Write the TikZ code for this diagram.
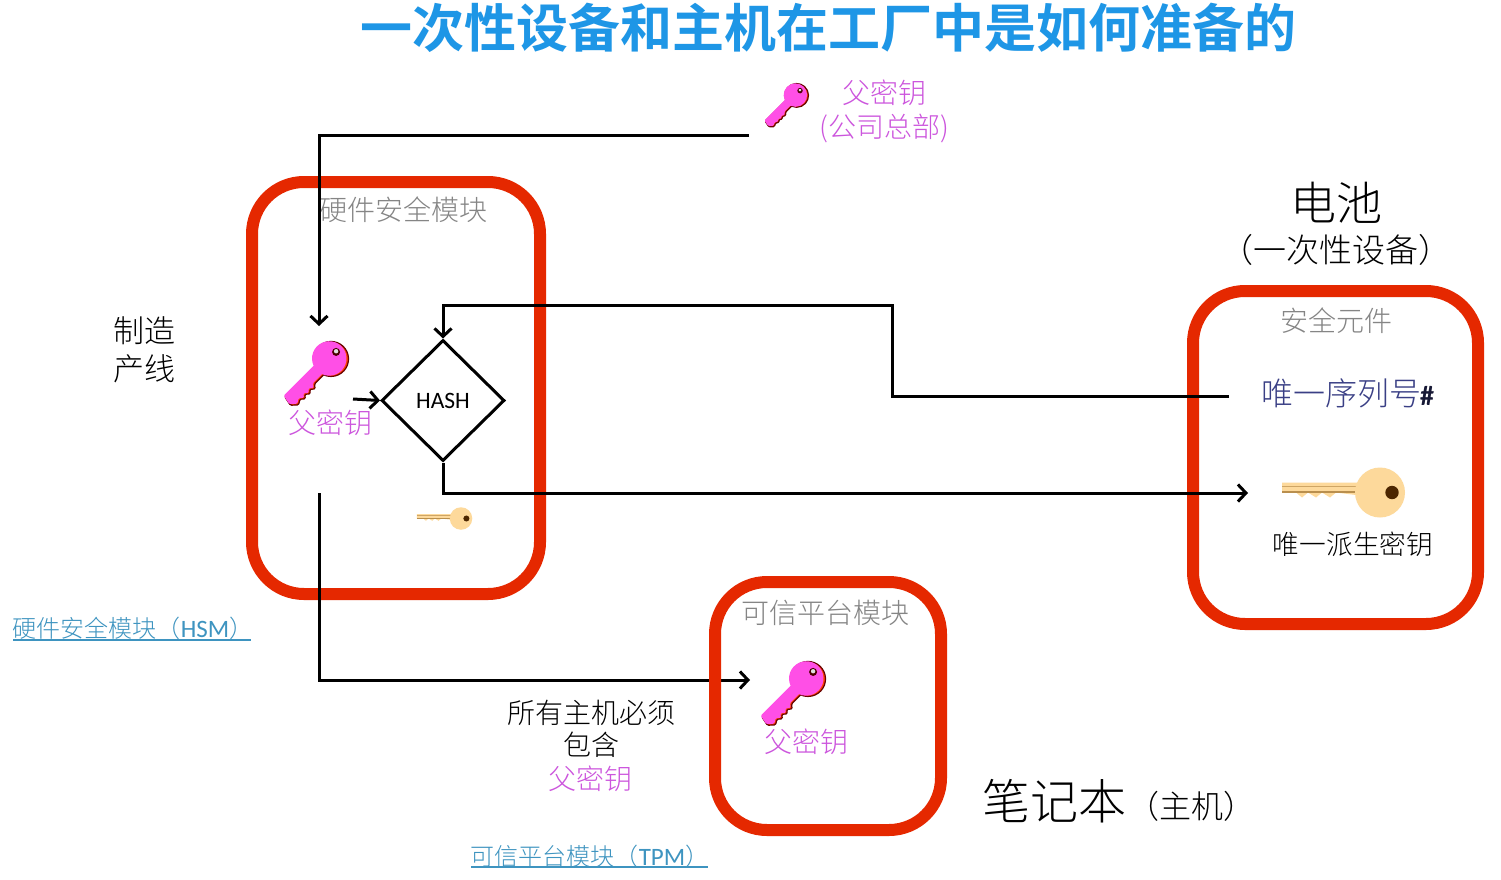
\documentclass[tikz,border=0pt]{standalone}
\usepackage{fontspec}
\setmainfont{Noto Sans CJK SC}[UprightFont=* Light,BoldFont=* Bold]
\newfontfamily\latinf{Carlito}
\usetikzlibrary{arrows.meta,shapes.geometric}
\definecolor{redbox}{HTML}{E52800}
\definecolor{titleblue}{HTML}{1E96E6}
\definecolor{keymag}{HTML}{CC55DD}
\definecolor{greytxt}{HTML}{858585}
\definecolor{linkc}{HTML}{3E94C0}
\definecolor{navytxt}{HTML}{3A3F85}
\definecolor{pinkkeyc}{HTML}{FF4FE6}
\definecolor{goldc}{HTML}{FDD99B}
\definecolor{goldd}{HTML}{B98F4E}
\def\keyoutline{[rounded corners=1.2pt] (-2,-4) -- (0,6) -- (40,6) [sharp corners] -- (43,6) arc (160:-160:17.5) [rounded corners=1.2pt] -- (30,-6) -- (27,-10) -- (23,-6.5) -- (20,-10) -- (16,-6.5) -- (13,-10) -- (9,-6.5) -- (4,-9.5) -- cycle}
\tikzset{
  redframe/.style={draw=redbox,line width=12pt,rounded corners=52pt},
  wire/.style={draw=black,line width=3pt,line cap=butt},
  tipped/.style={wire,-{Straight Barb[length=8pt,width=17pt,line width=3pt]}},
  lbl/.style={inner sep=0pt,align=center,font=\fontsize{28}{34}\selectfont},
  maglbl/.style={lbl,text=keymag},
  greylbl/.style={lbl,text=greytxt},
  blacklbl/.style={lbl,text=black},
  linklbl/.style={inner sep=0pt,text=linkc,font=\fontsize{24}{30}\selectfont},
  pinkkey/.pic={
    \begin{scope}[y=1pt]
    \filldraw[draw=black!60!red,line width=1.2pt,fill=orange!50!red] \keyoutline;
    \begin{scope}[shift={(0,1.6)}]
    \fill[pinkkeyc,scale=0.985] \keyoutline;
    \end{scope}
    \fill[black!70!red] (68,1.4) circle (4);
    \fill[white!75!gray] (68.5,1.9) circle (2.2);
    \end{scope}
  },
  goldkey/.pic={
    \begin{scope}[y=1pt]
    \fill[goldc] (-98,10) -- (-98,0) -- (-84,0) -- (-78,-5) -- (-72,0) -- (-64,-5) -- (-58,0) -- (-50,-5) -- (-44,0) -- (-20,-3) -- (-20,10) -- cycle;
    \fill[goldd] (-98,0) rectangle (-21,1.6);
    \fill[goldd!70!goldc] (-98,6) rectangle (-21,7);
    \fill[goldc] (0,0) circle (25);
    \fill[black!70!orange] (12,0) circle (6.7);
    \end{scope}
  }
}
\begin{document}
\begin{tikzpicture}[x=1pt,y=-1pt]
\useasboundingbox (0,0) rectangle (1501,880);
\fill[white] (0,0) rectangle (1501,880);

% frames
\draw[redframe] (252,182) rectangle (540,594);
\draw[redframe] (1193,291) rectangle (1478,624);

% title
\node[inner sep=0pt,text=titleblue,font=\fontsize{52}{54}\selectfont\bfseries] (title) at (828,28) {一次性设备和主机在工厂中是如何准备的};

% keys
\pic at (768,124) [rotate=45,scale=0.68] {pinkkey};
\pic at (289,401) [rotate=45] {pinkkey};
\pic at (766,721) [rotate=45] {pinkkey};
\pic at (1380,492.5) {goldkey};
\pic at (461,518.5) [scale=0.45] {goldkey};

% labels
\node[maglbl] (hq) at (884,111) {父密钥\\(公司总部)};
\node[greylbl] (hsmt) at (403,210) {硬件安全模块};
\node[blacklbl,font=\fontsize{31}{38}\selectfont] (line) at (144,350) {制造\\产线};
\node[maglbl] (k1) at (330,423) {父密钥};
\node[diamond,draw=black,line width=3pt,minimum width=123pt,minimum height=121pt,inner sep=0pt,font=\latinf\fontsize{23.5}{26}\selectfont] (hash) at (443,400.5) {HASH};
\node[inner sep=0pt,text=black,font=\fontsize{46}{50}\selectfont] (batt) at (1336,203) {电池};
\node[blacklbl,font=\fontsize{33}{36}\selectfont] (disp) at (1336,250) {（一次性设备）};
\node[greylbl] (se) at (1336,321) {安全元件};
\node[inner sep=0pt,text=navytxt,font=\fontsize{32}{36}\selectfont] (serial) at (1341,393) {唯一序列号};
\node[inner sep=0pt,anchor=west,text=navytxt!40!black,font=\latinf\bfseries\fontsize{28}{30}\selectfont] (hashm) at (1420,396) {\#};
\node[blacklbl,font=\fontsize{26.7}{30}\selectfont] (uniq) at (1353,544) {唯一派生密钥};
\node[greylbl] (tpmt) at (825,613) {可信平台模块};
\node[maglbl] (k2) at (806,742) {父密钥};
\node[blacklbl,font=\fontsize{28}{32}\selectfont] (all) at (591,729) {所有主机必须\\包含};
\node[maglbl] (k3) at (590,779) {父密钥};
\node[inner sep=0pt,text=black,font=\fontsize{48}{50}\selectfont] (nb) at (1054,801) {笔记本};
\node[blacklbl,font=\fontsize{32}{34}\selectfont] (host) at (1191,806) {（主机）};
\node[linklbl] (lnk1) at (133,628) {硬件安全模块（{\latinf\fontsize{25}{30}\selectfont HSM}）};
\node[linklbl] (lnk2) at (590,856) {可信平台模块（{\latinf\fontsize{25}{30}\selectfont TPM}）};
\draw[linkc,line width=1.4pt] (13,640) -- (251,640);
\draw[linkc,line width=1.4pt] (471,867) -- (708,867);

% connectors
\coordinate (a0) at (749,136);
\coordinate (a1) at (319,136);
\coordinate (a2) at (319,326);
\draw[tipped] (a0) -- (a1) -- (a2);
\coordinate (b0) at (1229,396);
\coordinate (b1) at (892,396);
\coordinate (b2) at (892,305);
\coordinate (b3) at (443,305);
\draw[tipped] (b0) -- (b1) -- (b2) -- (b3) -- (hash.north);
\coordinate (c0) at (353,399);
\draw[tipped] (c0) -- (hash.west);
\coordinate (d1) at (443,493);
\coordinate (d2) at (1248,493);
\draw[tipped] (hash.south) -- (d1) -- (d2);
\coordinate (e0) at (319,493);
\coordinate (e1) at (319,680);
\coordinate (e2) at (750,680);
\draw[tipped] (e0) -- (e1) -- (e2);

\draw[redframe] (715,582) rectangle (941,830);
\end{tikzpicture}
\end{document}
